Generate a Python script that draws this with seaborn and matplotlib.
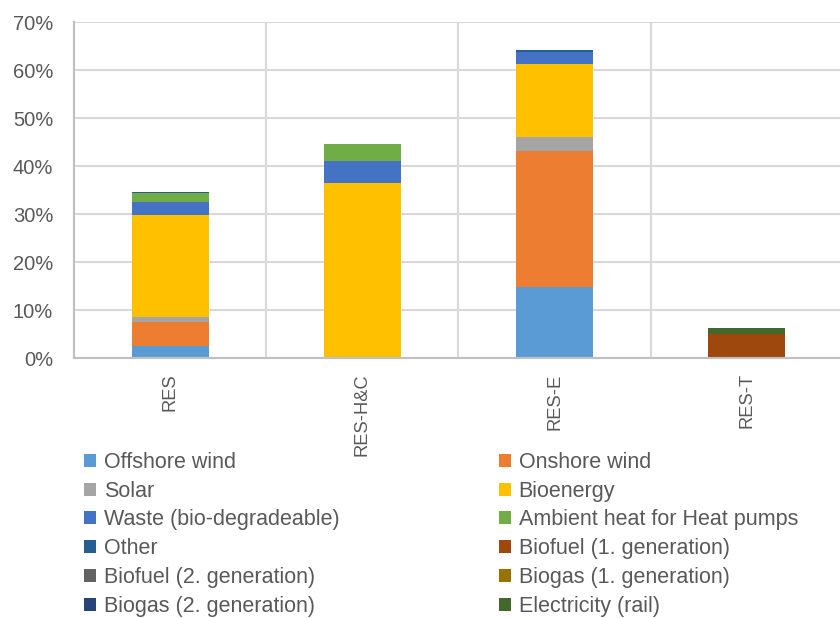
import matplotlib
matplotlib.use("Agg")
import matplotlib.pyplot as plt
from matplotlib.patches import Patch
from matplotlib.ticker import FuncFormatter
import seaborn as sns

# categories on the x axis
categories = ["RES", "RES-H&C", "RES-E", "RES-T"]

# series names (stacking order, bottom -> top)
series = [
    "Offshore wind", "Onshore wind", "Solar", "Bioenergy",
    "Waste (bio-degradeable)", "Ambient heat for Heat pumps", "Other",
    "Biofuel (1. generation)", "Biofuel (2. generation)",
    "Biogas (1. generation)", "Biogas (2. generation)", "Electricity (rail)",
]

# shares in % per category
offshore_wind = [2.4, 0.0, 14.7, 0.0]
onshore_wind = [5.2, 0.0, 28.5, 0.0]
solar = [0.9, 0.3, 2.8, 0.0]
bioenergy = [21.3, 36.1, 15.2, 0.0]
waste = [2.8, 4.7, 2.55, 0.0]
ambient_heat = [1.7, 3.4, 0.0, 0.0]
other = [0.3, 0.0, 0.35, 0.0]
biofuel_1 = [0.0, 0.0, 0.0, 5.1]
biofuel_2 = [0.0, 0.0, 0.0, 0.0]
biogas_1 = [0.0, 0.0, 0.0, 0.0]
biogas_2 = [0.0, 0.0, 0.0, 0.0]
electricity_rail = [0.0, 0.0, 0.0, 1.2]

values = [offshore_wind, onshore_wind, solar, bioenergy, waste, ambient_heat,
          other, biofuel_1, biofuel_2, biogas_1, biogas_2, electricity_rail]

colors = ["#5B9BD5", "#ED7D31", "#A5A5A5", "#FFC000", "#4472C4", "#70AD47",
          "#255E91", "#9E480E", "#636363", "#997300", "#264478", "#43682B"]

sns.set_theme(style="white")
plt.rcParams['font.family'] = ['Liberation Sans', 'DejaVu Sans']
text_col = "#595959"
grid_col = "#D9D9D9"

fig = plt.figure(figsize=(8.4, 6.18), dpi=100)
ax = fig.add_axes([74 / 840, (618 - 358) / 618, 1 - 74 / 840, (358 - 22) / 618])

bottom = [0.0] * len(categories)
for name, vals, c in zip(series, values, colors):
    sns.barplot(x=categories, y=vals, bottom=bottom, color=c, width=0.4,
                ax=ax, saturation=1, linewidth=0)
    bottom = [b + v for b, v in zip(bottom, vals)]

ax.set_ylim(0, 70)
ax.set_xlim(-0.5, 3.485)
ax.set_yticks(range(0, 71, 10))
ax.yaxis.set_major_formatter(FuncFormatter(lambda v, p: f"{v:.0f}%"))
ax.yaxis.grid(True, color=grid_col, linewidth=1.5)
for xv in [0.5, 1.5, 2.5]:
    ax.axvline(xv, color=grid_col, linewidth=1.5, zorder=0)
ax.set_axisbelow(True)
for s in ["top", "right"]:
    ax.spines[s].set_visible(False)
for s in ["left", "bottom"]:
    ax.spines[s].set_color("#BFBFBF")
    ax.spines[s].set_linewidth(1.5)
ax.tick_params(axis="both", length=0, colors=text_col)
ax.tick_params(axis="y", pad=15, labelsize=14.5)
ax.tick_params(axis="x", pad=11, labelsize=13.2)
for lbl in ax.get_xticklabels():
    lbl.set_rotation(90)
ax.set_xlabel("")
ax.set_ylabel("")

# legend in two columns, row order like the original
handles = [Patch(facecolor=c, edgecolor="none") for c in colors]
kw = dict(frameon=False, fontsize=15.5, handlelength=0.56, handleheight=0.56,
          handletextpad=0.35, labelspacing=0.36, labelcolor=text_col,
          loc="upper left", borderaxespad=0, borderpad=0)
fig.legend(handles[0::2], series[0::2], bbox_to_anchor=(84 / 840, 1 - 452 / 618), **kw)
fig.legend(handles[1::2], series[1::2], bbox_to_anchor=(499 / 840, 1 - 452 / 618), **kw)

fig.savefig("out.png", dpi=100)
